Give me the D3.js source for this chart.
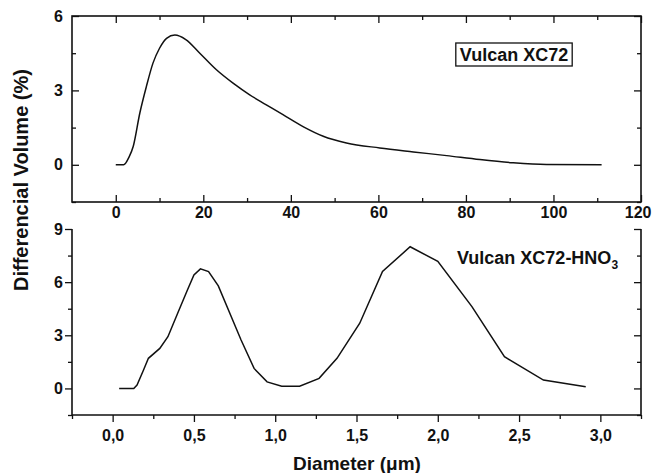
<!DOCTYPE html>
<html>
<head>
<meta charset="utf-8">
<title>particle size</title>
<script src="https://cdn.jsdelivr.net/npm/d3@7"></script>
<style>
  body { margin: 0; background: #fff; }
  text { font-family: "Liberation Sans", Arial, sans-serif; font-weight: bold; fill: #111; }
</style>
</head>
<body>
<script>
// Vulcan XC72 (top panel), diameter in um
const xc72Diam = [0, 1.8, 3, 4, 5.5, 7, 8.5, 10, 11.6, 13.5, 16, 19.2, 23, 26.8, 30.6, 34.4, 38.2, 43, 47.4, 52.7, 60.3, 68, 75.6, 83.2, 90.8, 98.4, 111];
const xc72Vol  = [0, 0, 0.3, 0.75, 2.09, 3.16, 4.1, 4.7, 5.1, 5.23, 5.05, 4.5, 3.83, 3.29, 2.82, 2.42, 2.02, 1.52, 1.15, 0.88, 0.68, 0.52, 0.37, 0.21, 0.08, 0.01, 0];

// Vulcan XC72-HNO3 (bottom panel)
const hno3Diam = [0.04, 0.13, 0.15, 0.19, 0.22, 0.29, 0.34, 0.40, 0.46, 0.50, 0.54, 0.59, 0.65, 0.79, 0.87, 0.95, 1.04, 1.15, 1.27, 1.38, 1.52, 1.66, 1.83, 2.0, 2.21, 2.41, 2.65, 2.91];
const hno3Vol  = [0, 0, 0.19, 1.04, 1.7, 2.26, 2.92, 4.24, 5.56, 6.41, 6.75, 6.6, 5.79, 2.73, 1.13, 0.37, 0.13, 0.13, 0.57, 1.7, 3.68, 6.6, 8.0, 7.17, 4.62, 1.79, 0.47, 0.09];

const topXTicks = [0, 20, 40, 60, 80, 100, 120];
const topXMinor = [10, 30, 50, 70, 90, 110];
const topYTicks = [0, 3, 6];
const topYMinor = [-1.5, 1.5, 4.5];
const botXTicks = [0, 0.5, 1, 1.5, 2, 2.5, 3];
const botXMinor = [-0.25, 0.25, 0.75, 1.25, 1.75, 2.25, 2.75, 3.25];
const botYTicks = [0, 3, 6, 9];
const botYMinor = [-1.5, 1.5, 4.5, 7.5];

const W = 653, H = 473;
const left = 72, right = 641;

const svg = d3.select("body").append("svg")
  .attr("width", W).attr("height", H);

const comma = d => d3.format(".1f")(d).replace(".", ",");

// ---------- top panel ----------
const x1 = d3.scaleLinear().domain([-10, 120]).range([left, right]);
const y1 = d3.scaleLinear().domain([-1.5, 6]).range([202, 16]);

function addAxis(g, axis) {
  g.call(axis);
  g.select(".domain").remove();
  g.selectAll(".tick line").attr("stroke", "#111").attr("stroke-width", 1.3);
  g.selectAll("text").attr("font-size", 16).attr("fill", "#111");
  return g;
}

const t = svg.append("g");
const topBottomAxis = addAxis(t.append("g").attr("transform", "translate(0,202)"),
  d3.axisBottom(x1).tickValues(topXTicks).tickSize(-7).tickPadding(5).tickFormat(d3.format("d")));
// last label sits against the page edge
topBottomAxis.selectAll(".tick text").filter(d => d === 120)
  .attr("text-anchor", "end").attr("x", 10);
addAxis(t.append("g").attr("transform", "translate(0,202)"),
  d3.axisBottom(x1).tickValues(topXMinor).tickSize(-4).tickFormat(""));
addAxis(t.append("g").attr("transform", "translate(0,16)"),
  d3.axisTop(x1).tickValues(topXTicks).tickSize(-7).tickFormat(""));
addAxis(t.append("g").attr("transform", "translate(0,16)"),
  d3.axisTop(x1).tickValues(topXMinor).tickSize(-4).tickFormat(""));
addAxis(t.append("g").attr("transform", `translate(${left},0)`),
  d3.axisLeft(y1).tickValues(topYTicks).tickSize(-7).tickPadding(9).tickFormat(d3.format("d")));
addAxis(t.append("g").attr("transform", `translate(${left},0)`),
  d3.axisLeft(y1).tickValues(topYMinor).tickSize(-4).tickFormat(""));
addAxis(t.append("g").attr("transform", `translate(${right},0)`),
  d3.axisRight(y1).tickValues(topYTicks).tickSize(-7).tickFormat(""));
addAxis(t.append("g").attr("transform", `translate(${right},0)`),
  d3.axisRight(y1).tickValues(topYMinor).tickSize(-4).tickFormat(""));

t.append("rect")
  .attr("x", left).attr("y", 16)
  .attr("width", right - left).attr("height", 202 - 16)
  .attr("fill", "none").attr("stroke", "#111").attr("stroke-width", 1.6);

const line1 = d3.line().x((d, i) => x1(xc72Diam[i])).y(d => y1(d)).curve(d3.curveMonotoneX);
t.append("path").datum(xc72Vol)
  .attr("d", line1).attr("fill", "none").attr("stroke", "#111").attr("stroke-width", 1.5);

// label box
const lab1 = t.append("text").attr("x", 514).attr("y", 61)
  .attr("text-anchor", "middle").attr("font-size", 18).text("Vulcan XC72");
const bb = lab1.node().getBBox();
t.append("rect")
  .attr("x", bb.x - 4).attr("y", 43).attr("width", bb.width + 8).attr("height", 23)
  .attr("fill", "none").attr("stroke", "#111").attr("stroke-width", 1.3);

// ---------- bottom panel ----------
const x2 = d3.scaleLinear().domain([-0.25, 3.25]).range([left, right]);
const y2 = d3.scaleLinear().domain([-1.5, 9]).range([415, 229]);

const b = svg.append("g");
addAxis(b.append("g").attr("transform", "translate(0,415)"),
  d3.axisBottom(x2).tickValues(botXTicks).tickSize(7).tickPadding(8).tickFormat(comma));
addAxis(b.append("g").attr("transform", "translate(0,415)"),
  d3.axisBottom(x2).tickValues(botXMinor).tickSize(4).tickFormat(""));
addAxis(b.append("g").attr("transform", `translate(${left},0)`),
  d3.axisLeft(y2).tickValues(botYTicks).tickSize(7).tickPadding(2).tickFormat(d3.format("d")));
addAxis(b.append("g").attr("transform", `translate(${left},0)`),
  d3.axisLeft(y2).tickValues(botYMinor).tickSize(4).tickFormat(""));
addAxis(b.append("g").attr("transform", `translate(${right},0)`),
  d3.axisRight(y2).tickValues(botYTicks).tickSize(-7).tickFormat(""));
addAxis(b.append("g").attr("transform", `translate(${right},0)`),
  d3.axisRight(y2).tickValues(botYMinor).tickSize(-4).tickFormat(""));

b.append("path")
  .attr("d", `M${left},229V415H${right}V229`)
  .attr("fill", "none").attr("stroke", "#111").attr("stroke-width", 1.6);

const line2 = d3.line().x((d, i) => x2(hno3Diam[i])).y(d => y2(d));
b.append("path").datum(hno3Vol)
  .attr("d", line2).attr("fill", "none").attr("stroke", "#111").attr("stroke-width", 1.5);

const lab2 = b.append("text").attr("x", 457).attr("y", 264).attr("font-size", 18);
lab2.append("tspan").text("Vulcan XC72-HNO");
lab2.append("tspan").attr("dy", 5).attr("font-size", 12).text("3");

// ---------- axis titles ----------
svg.append("text")
  .attr("transform", "translate(28,180) rotate(-90)")
  .attr("text-anchor", "middle").attr("font-size", 20)
  .text("Differencial Volume (%)");

svg.append("text")
  .attr("x", 357).attr("y", 470)
  .attr("text-anchor", "middle").attr("font-size", 19)
  .text("Diameter (\u03bcm)");
</script>
</body>
</html>
